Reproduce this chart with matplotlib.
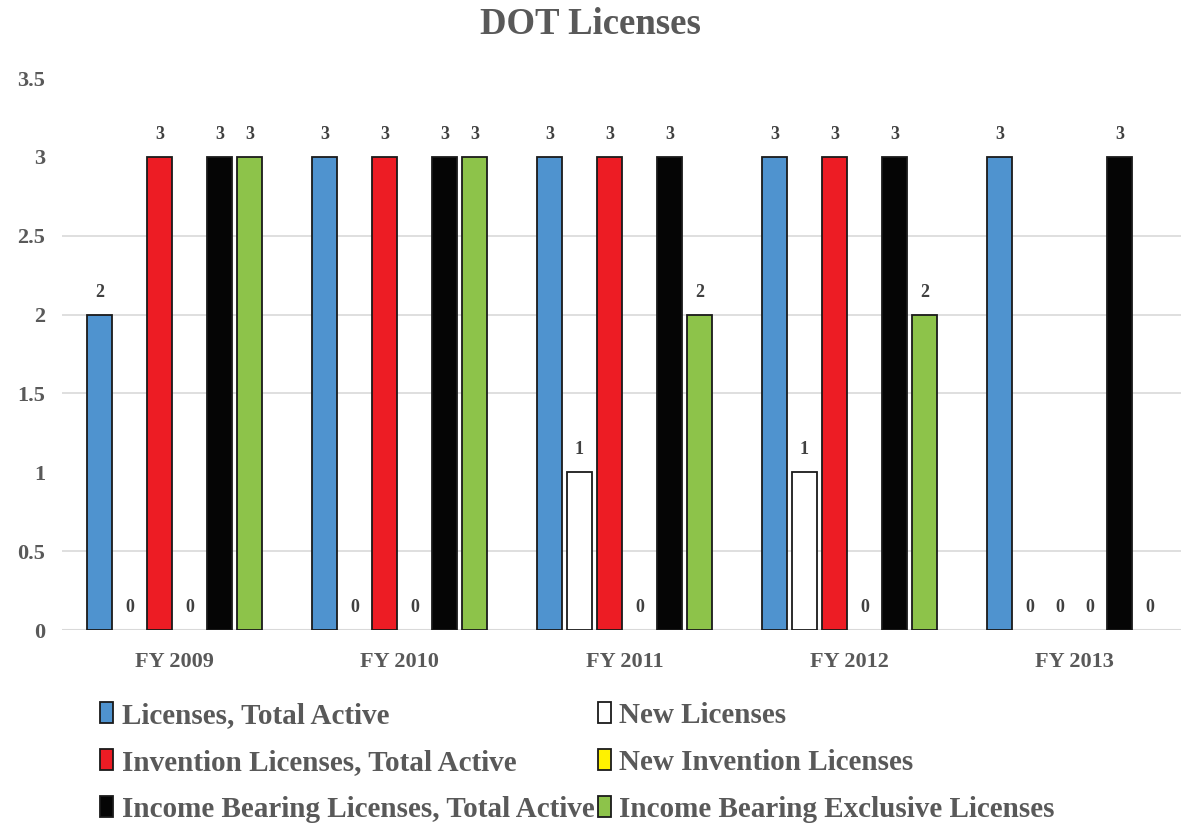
import matplotlib
matplotlib.use("Agg")
import matplotlib.pyplot as plt
from matplotlib.patches import Patch
import numpy as np

categories = ["FY 2009", "FY 2010", "FY 2011", "FY 2012", "FY 2013"]
series_names = [
    "Licenses, Total Active",
    "New Licenses",
    "Invention Licenses, Total Active",
    "New Invention Licenses",
    "Income Bearing Licenses, Total Active",
    "Income Bearing Exclusive Licenses",
]
licenses_total = [2, 3, 3, 3, 3]
new_licenses = [0, 0, 1, 1, 0]
invention_total = [3, 3, 3, 3, 0]
new_invention = [0, 0, 0, 0, 0]
income_total = [3, 3, 3, 3, 3]
income_exclusive = [3, 3, 2, 2, 0]
series_values = [licenses_total, new_licenses, invention_total,
                 new_invention, income_total, income_exclusive]
colors = ["#4F93CF", "#FFFFFF", "#ED1C24", "#FFF200", "#050505", "#8DC34A"]
y_ticks = [0, 0.5, 1, 1.5, 2, 2.5, 3, 3.5]
y_tick_labels = ["0", "0.5", "1", "1.5", "2", "2.5", "3", "3.5"]
grid_levels = [0.5, 1.5, 2, 2.5]

plt.rcParams['font.family'] = ['Liberation Serif', 'DejaVu Serif']
plt.rcParams['font.weight'] = 'bold'
text_gray = "#595959"
edge = "#1a1a1a"

fig = plt.figure(figsize=(11.81, 8.25), dpi=100)
ax = fig.add_axes([62/1181, 1 - 630/825, (1187 - 62)/1181, (630 - 78)/825])

x = np.arange(len(categories))
slot = 0.1333
width = 0.111
handles = []
for i, (name, vals, c) in enumerate(zip(series_names, series_values, colors)):
    offs = (i - 2.5) * slot
    bars = ax.bar(x + offs, vals, width, color=c, edgecolor=edge,
                  linewidth=1.3, label=name, zorder=3)
    for b, v in zip(bars, vals):
        if v == 0:
            b.set_linewidth(0)
    handles.append(Patch(facecolor=c, edgecolor=edge, linewidth=1.3))
    ax.bar_label(bars, labels=[str(v) for v in vals], padding=10,
                 fontsize=13, fontweight='bold', color="#404040")

ax.set_xlim(-0.5, len(categories) - 0.5)
ax.set_ylim(0, 3.5)
ax.set_yticks(y_ticks)
ax.set_yticklabels(y_tick_labels)
for g in grid_levels:
    ax.axhline(g, color="#d9d9d9", linewidth=1.2, zorder=0)
ax.axhline(0, color="#d9d9d9", linewidth=1.5, zorder=1)
ax.set_xticks(x)
ax.set_xticklabels(categories)
for s in ax.spines.values():
    s.set_visible(False)
ax.tick_params(axis='both', length=0, labelsize=16, labelcolor=text_gray)
ax.tick_params(axis='x', pad=16)
ax.tick_params(axis='y', pad=12)
for lab in ax.get_xticklabels() + ax.get_yticklabels():
    lab.set_fontweight('bold')

fig.text(0.5, 1 - 24/825, "DOT Licenses", ha='center', va='center',
         fontsize=26.5, fontweight='bold', color=text_gray)

order = [0, 2, 4, 1, 3, 5]
leg = fig.legend([handles[k] for k in order], [series_names[k] for k in order],
                 ncol=2, loc='upper left', bbox_to_anchor=(100/1181, 1 - 702/825),
                 frameon=False, fontsize=21, handlelength=0.45, handleheight=0.72,
                 handletextpad=0.3, columnspacing=0.1, labelspacing=0.68,
                 borderaxespad=0, borderpad=0)
for t in leg.get_texts():
    t.set_color(text_gray)
    t.set_fontweight('bold')

fig.savefig("out.png", dpi=100)
